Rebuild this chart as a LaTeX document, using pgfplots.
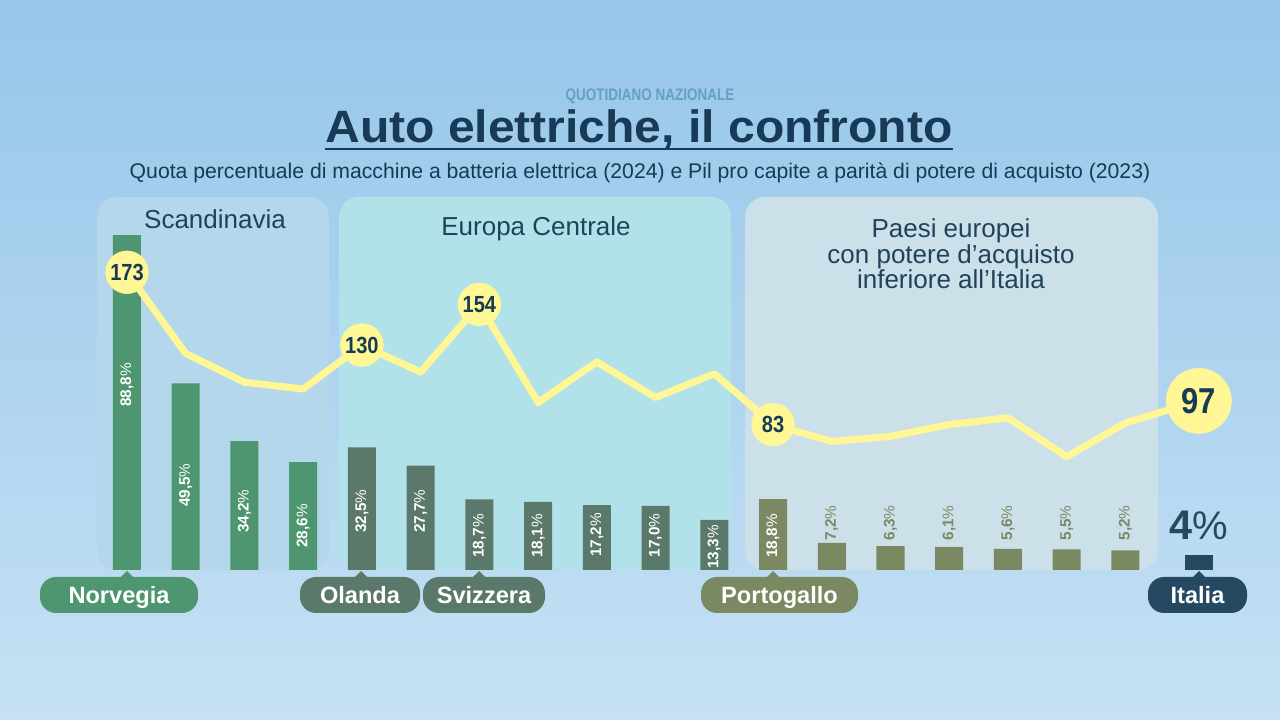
\documentclass[border=0pt]{standalone}
\usepackage{fontspec}
\setmainfont{Liberation Sans}
\newfontfamily\condfont[FakeStretch=0.86]{Liberation Sans}
\newfontfamily\qnfont[FakeStretch=0.81]{Liberation Sans}
\newfontfamily\widefont[FakeStretch=1.06]{Liberation Sans}
\usepackage{pgfplots}
\pgfplotsset{compat=1.18}
\definecolor{bgtop}{RGB}{150,198,234}
\definecolor{bgbot}{RGB}{198,225,244}
\definecolor{pscan}{RGB}{181,215,236}
\definecolor{pcent}{RGB}{178,226,233}
\definecolor{ppaesi}{RGB}{204,224,234}
\definecolor{navy}{RGB}{24,58,86}
\definecolor{headc}{RGB}{32,66,90}
\definecolor{cscan}{RGB}{78,150,112}
\definecolor{ccent}{RGB}{91,121,106}
\definecolor{cpaesi}{RGB}{122,137,98}
\definecolor{cital}{RGB}{36,73,96}
\definecolor{lineyel}{RGB}{255,247,150}
\definecolor{qn}{RGB}{100,160,196}
\begin{document}
\begin{tikzpicture}[x=0.75pt,y=0.75pt]
\shade[top color=bgtop,bottom color=bgbot] (0,0) rectangle (1280,720);
% panels
\fill[pscan, rounded corners=15pt] (97,150) rectangle (329,523);
\fill[pcent, rounded corners=15pt] (339,150) rectangle (731,523);
\fill[ppaesi, rounded corners=15pt] (745,150) rectangle (1158,523);
\node[text=headc, font=\fontsize{19.5}{23}\selectfont] at (215,501) {Scandinavia};
\node[text=headc, font=\fontsize{19.5}{23}\selectfont] at (536,491) {Europa Centrale};
\node[text=headc, align=center, font=\fontsize{19.5}{19.1}\selectfont] at (951,466) {Paesi europei\\con potere d’acquisto\\inferiore all’Italia};
% titles
\node[text=qn, font=\qnfont\bfseries\fontsize{12.5}{14}\selectfont] at (650,624) {QUOTIDIANO NAZIONALE};
\node[inner sep=0pt, anchor=base, text=navy, font=\widefont\bfseries\fontsize{34}{40}\selectfont] (T) at (639,577) {Auto elettriche, il confronto};
\draw[navy, line width=2pt] ([yshift=-4.5pt]T.base west) -- ([yshift=-4.5pt]T.base east);
\node[anchor=base, text=navy, font=\fontsize{15.9}{18}\selectfont] at (640,541) {Quota percentuale di macchine a batteria elettrica (2024) e Pil pro capite a parità di potere di acquisto (2023)};

% bars
\begin{axis}[at={(51.2pt,112.5pt)}, anchor=south west, scale only axis,
  width=880.95pt, height=282.75pt, xmin=-1, xmax=19, ymin=0, ymax=100,
  hide axis, clip=false]
\addplot[ybar, bar width=21pt, bar shift=0pt, fill=cscan, draw=none] coordinates {(0,88.8)(1,49.5)(2,34.2)(3,28.6)};
\addplot[ybar, bar width=21pt, bar shift=0pt, fill=ccent, draw=none] coordinates {(4,32.5)(5,27.7)(6,18.7)(7,18.1)(8,17.2)(9,17.0)(10,13.3)};
\addplot[ybar, bar width=21pt, bar shift=0pt, fill=cpaesi, draw=none] coordinates {(11,18.8)(12,7.2)(13,6.3)(14,6.1)(15,5.6)(16,5.5)(17,5.2)};
\addplot[ybar, bar width=21pt, bar shift=0pt, fill=cital, draw=none] coordinates {(18.25,4)};
% labels inside bars
\addplot[draw=none, mark=none, point meta=explicit symbolic,
  nodes near coords={\textbf{\pgfplotspointmeta}\%},
  every node near coord/.append style={anchor=center, rotate=90, text=white, inner sep=0pt, font=\fontsize{11.5}{13}\selectfont}]
  table[x=x, y=y, meta=l] {
x y l
0 49.1 88,8
1 22.5 49,5
2 15.6 34,2
3 11.7 28,6
4 15.6 32,5
5 15.6 27,7
6 9.0 18,7
7 9.0 18,1
8 9.3 17,2
9 9.2 17,0
10 6.1 13,3
11 9.0 18,8
};
% labels above small bars
\addplot[draw=none, mark=none, point meta=explicit symbolic,
  nodes near coords={\textbf{\pgfplotspointmeta}\%},
  every node near coord/.append style={anchor=center, rotate=90, text=cpaesi, inner sep=0pt, font=\fontsize{11.5}{13}\selectfont}]
  table[x=x, y=y, meta=l] {
x y l
12 12.5 7,2
13 12.5 6,3
14 12.5 6,1
15 12.5 5,6
16 12.5 5,5
17 12.5 5,2
};
\addplot[draw=none, mark=none, point meta=explicit symbolic,
  nodes near coords={\textbf{\pgfplotspointmeta}{\fontsize{30}{34}\selectfont\%}},
  every node near coord/.append style={anchor=center, text=cital, inner sep=0pt, font=\fontsize{31}{34}\selectfont}]
  table[x=x, y=y, meta=l] {
x y l
18.25 11.7 4
};
\end{axis}

% line
\begin{axis}[at={(51.2pt,112.5pt)}, anchor=south west, scale only axis,
  width=880.95pt, height=282.75pt, xmin=-1, xmax=19, ymin=-2.955, ymax=219.86,
  hide axis, clip=false]
\addplot[lineyel, line width=5.25pt, line join=round, mark=none] coordinates {
(0,173)(1,125)(2,108)(3,104)(4,130)(5,114)(6,154)(7,96)(8,120)(9,99)(10,113)
(11,83)(12,73)(13,76)(14,83)(15,87)(16,64)(17,84)(18.25,97)};
\addplot[lineyel, only marks, mark=*, mark size=16pt, mark options={fill=lineyel, draw=lineyel},
  point meta=explicit symbolic, nodes near coords,
  every node near coord/.append style={anchor=center, text=navy, inner sep=0pt, font=\condfont\bfseries\fontsize{17.5}{20}\selectfont}]
  table[x=x, y=y, meta=l] {
x y l
0 173 173
4 130 130
6 154 154
11 83 83
};
\addplot[lineyel, only marks, mark=*, mark size=24.4pt, mark options={fill=lineyel, draw=lineyel},
  point meta=explicit symbolic, nodes near coords,
  every node near coord/.append style={anchor=center, text=navy, inner sep=0pt, font=\condfont\bfseries\fontsize{27}{30}\selectfont}]
  table[x=x, y=y, meta=l] {
x y l
18.25 97 97
};
\end{axis}

% tags
\tikzset{tag/.style={rounded corners=12pt, minimum height=27pt, text height=12.7pt, text depth=0pt, text=white, inner sep=0pt, font=\bfseries\fontsize{17.7}{20}\selectfont}}
\fill[cscan] (120,142) -- (127,149) -- (134,142) -- cycle;
\node[tag, fill=cscan, minimum width=118.5pt] at (119,125) {Norvegia};
\fill[ccent] (354,142) -- (361,149) -- (368,142) -- cycle;
\node[tag, fill=ccent, minimum width=90pt] at (360,125) {Olanda};
\fill[ccent] (472,142) -- (479,149) -- (486,142) -- cycle;
\node[tag, fill=ccent, minimum width=91.5pt] at (484,125) {Svizzera};
\fill[cpaesi] (766,142) -- (773,149) -- (780,142) -- cycle;
\node[tag, fill=cpaesi, minimum width=117.75pt] at (779.5,125) {Portogallo};
\fill[cital] (1192,142) -- (1199,149) -- (1206,142) -- cycle;
\node[tag, fill=cital, minimum width=74.25pt] at (1197.5,125) {Italia};

\pgfresetboundingbox
\useasboundingbox (0,0) rectangle (1280,720);
\end{tikzpicture}
\end{document}
